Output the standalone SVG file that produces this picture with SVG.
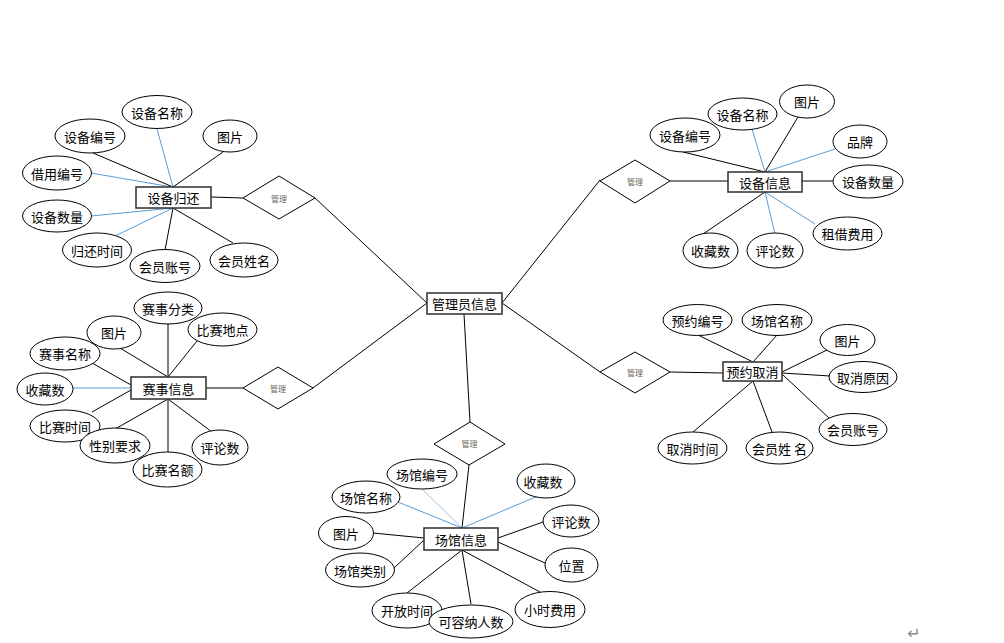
<svg xmlns="http://www.w3.org/2000/svg" width="1004" height="643" viewBox="0 0 1004 643">
<style>
.bg{fill:#ffffff}
.ent{fill:#ffffff;stroke:#3a3a3a;stroke-width:1.6}
.att{fill:#ffffff;stroke:#000000;stroke-width:1}
.rel{fill:#ffffff;stroke:#000000;stroke-width:1}
.k{stroke:#000000;stroke-width:1;fill:none}
.b{stroke:#5b9bd5;stroke-width:1;fill:none}
.lb{stroke:#9dc3e6;stroke-width:1;fill:none}
text{font-family:"Noto Sans CJK SC","Liberation Sans",sans-serif;text-anchor:middle;dominant-baseline:central;fill:#000000}
.t{font-size:13px}
.r{font-size:8px;fill:#6a6a5a}
.p{font-family:"DejaVu Sans",sans-serif;font-size:16px;fill:#8a8a8a}
</style>
<rect class="bg" x="0" y="0" width="1004" height="643"/>
<g id="connectors">
<!-- main relationships -->
<line class="k" x1="315" y1="198" x2="427" y2="303"/>
<line class="k" x1="313" y1="388" x2="427" y2="303"/>
<line class="k" x1="600" y1="180" x2="502" y2="303"/>
<line class="k" x1="600" y1="372" x2="502" y2="303"/>
<line class="k" x1="464" y1="314" x2="470" y2="422"/>
<line class="k" x1="211" y1="197" x2="243" y2="198"/>
<line class="k" x1="206" y1="388" x2="243" y2="388"/>
<line class="k" x1="670" y1="181" x2="728" y2="181"/>
<line class="k" x1="670" y1="372" x2="723" y2="373"/>
<line class="k" x1="469" y1="465" x2="462" y2="528"/>
<!-- 设备归还 -->
<line class="b" x1="157" y1="129" x2="173" y2="187"/>
<line class="k" x1="93" y1="153" x2="173" y2="187"/>
<line class="k" x1="223" y1="152" x2="173" y2="187"/>
<line class="b" x1="91" y1="173" x2="172" y2="187"/>
<line class="b" x1="91" y1="216" x2="173" y2="208"/>
<line class="b" x1="115" y1="236" x2="173" y2="208"/>
<line class="k" x1="165" y1="250" x2="173" y2="208"/>
<line class="k" x1="233" y1="243" x2="173" y2="208"/>
<!-- 设备信息 -->
<line class="k" x1="683" y1="152" x2="765" y2="172"/>
<line class="b" x1="752" y1="129" x2="765" y2="172"/>
<line class="k" x1="798" y1="117" x2="765" y2="172"/>
<line class="b" x1="835" y1="149" x2="765" y2="172"/>
<line class="k" x1="802" y1="181" x2="833" y2="181"/>
<line class="b" x1="815" y1="224" x2="765" y2="192"/>
<line class="b" x1="775" y1="234" x2="765" y2="192"/>
<line class="k" x1="703" y1="234" x2="765" y2="192"/>
<!-- 赛事信息 -->
<line class="k" x1="168" y1="324" x2="168" y2="377"/>
<line class="k" x1="115" y1="345" x2="168" y2="377"/>
<line class="k" x1="197" y1="341" x2="168" y2="377"/>
<line class="k" x1="92" y1="363" x2="131" y2="385"/>
<line class="b" x1="73" y1="388" x2="131" y2="388"/>
<line class="k" x1="92" y1="412" x2="131" y2="390"/>
<line class="k" x1="115" y1="429" x2="168" y2="399"/>
<line class="k" x1="168" y1="452" x2="168" y2="399"/>
<line class="k" x1="212" y1="432" x2="168" y2="399"/>
<!-- 预约取消 -->
<line class="k" x1="698" y1="335" x2="753" y2="362"/>
<line class="k" x1="777" y1="335" x2="753" y2="362"/>
<line class="k" x1="827" y1="350" x2="782" y2="372"/>
<line class="k" x1="830" y1="376" x2="782" y2="373"/>
<line class="k" x1="829" y1="418" x2="782" y2="374"/>
<line class="k" x1="772" y1="432" x2="753" y2="381"/>
<line class="k" x1="693" y1="432" x2="753" y2="381"/>
<!-- 场馆信息 -->
<line class="lb" x1="423" y1="490" x2="462" y2="528"/>
<line class="b" x1="398" y1="502" x2="462" y2="528"/>
<line class="b" x1="538" y1="496" x2="462" y2="528"/>
<line class="k" x1="373" y1="533" x2="424" y2="538"/>
<line class="k" x1="394" y1="568" x2="424" y2="540"/>
<line class="k" x1="543" y1="522" x2="498" y2="538"/>
<line class="k" x1="545" y1="563" x2="498" y2="542"/>
<line class="k" x1="540" y1="592" x2="462" y2="550"/>
<line class="k" x1="471" y1="604" x2="462" y2="550"/>
<line class="k" x1="407" y1="593" x2="462" y2="550"/>
</g>
<g id="admin">
<rect class="ent" x="427" y="293" width="75" height="21"/>
<text class="t" x="464.5" y="303.5">管理员信息</text>
</g>
<g id="rel-tl">
<polygon class="rel" points="243,198 279,176 315,198 279,219"/>
<text class="r" x="279" y="198">管理</text>
</g>
<g id="rel-ml">
<polygon class="rel" points="243,388 278,367 313,388 278,409"/>
<text class="r" x="278" y="388">管理</text>
</g>
<g id="rel-tr">
<polygon class="rel" points="600,181 635,160 670,181 635,203"/>
<text class="r" x="635" y="181">管理</text>
</g>
<g id="rel-mr">
<polygon class="rel" points="600,372 635,352 670,372 635,393"/>
<text class="r" x="635" y="372">管理</text>
</g>
<g id="rel-b">
<polygon class="rel" points="434,444 470,422 505,444 469,465"/>
<text class="r" x="469.5" y="443.5">管理</text>
</g>
<g id="ent-sbgh">
<rect class="ent" x="136" y="187" width="75" height="21"/>
<text class="t" x="173.5" y="197.5">设备归还</text>
</g>
<g id="ent-sbxx">
<rect class="ent" x="728" y="172" width="74" height="20"/>
<text class="t" x="765" y="182">设备信息</text>
</g>
<g id="ent-ssxx">
<rect class="ent" x="131" y="377" width="75" height="22"/>
<text class="t" x="168.5" y="388">赛事信息</text>
</g>
<g id="ent-yyqx">
<rect class="ent" x="723" y="362" width="59" height="19"/>
<text class="t" x="752.5" y="371.5">预约取消</text>
</g>
<g id="ent-cgxx">
<rect class="ent" x="424" y="528" width="74" height="22"/>
<text class="t" x="461" y="539">场馆信息</text>
</g>
<!-- 设备归还 attributes -->
<g id="a1"><ellipse class="att" cx="157" cy="112" rx="35" ry="16.5"/><text class="t" x="157" y="112">设备名称</text></g>
<g id="a2"><ellipse class="att" cx="90" cy="136" rx="35" ry="17"/><text class="t" x="90" y="136">设备编号</text></g>
<g id="a3"><ellipse class="att" cx="230" cy="136" rx="27" ry="16"/><text class="t" x="230" y="136">图片</text></g>
<g id="a4"><ellipse class="att" cx="57" cy="173" rx="34.5" ry="17"/><text class="t" x="57" y="173">借用编号</text></g>
<g id="a5"><ellipse class="att" cx="57" cy="216" rx="34.5" ry="16"/><text class="t" x="57" y="216">设备数量</text></g>
<g id="a6"><ellipse class="att" cx="97" cy="250" rx="34.5" ry="17"/><text class="t" x="97" y="250">归还时间</text></g>
<g id="a7"><ellipse class="att" cx="165" cy="266" rx="35" ry="16.5"/><text class="t" x="165" y="266">会员账号</text></g>
<g id="a8"><ellipse class="att" cx="244" cy="260" rx="34" ry="17"/><text class="t" x="244" y="260">会员姓名</text></g>
<!-- 设备信息 attributes -->
<g id="b1"><ellipse class="att" cx="685" cy="135" rx="35" ry="17"/><text class="t" x="685" y="135">设备编号</text></g>
<g id="b2"><ellipse class="att" cx="742.5" cy="114" rx="34.5" ry="16"/><text class="t" x="742.5" y="114">设备名称</text></g>
<g id="b3"><ellipse class="att" cx="807" cy="101.5" rx="27.5" ry="16.5"/><text class="t" x="807" y="101.5">图片</text></g>
<g id="b4"><ellipse class="att" cx="860" cy="141.5" rx="27" ry="16.5"/><text class="t" x="860" y="141.5">品牌</text></g>
<g id="b5"><ellipse class="att" cx="868" cy="181.5" rx="35" ry="16.5"/><text class="t" x="868" y="181.5">设备数量</text></g>
<g id="b6"><ellipse class="att" cx="847.5" cy="233.5" rx="34.5" ry="16.5"/><text class="t" x="847.5" y="233.5">租借费用</text></g>
<g id="b7"><ellipse class="att" cx="775" cy="250.5" rx="28" ry="17.5"/><text class="t" x="775" y="250.5">评论数</text></g>
<g id="b8"><ellipse class="att" cx="710.5" cy="250.5" rx="27.5" ry="17.5"/><text class="t" x="710.5" y="250.5">收藏数</text></g>
<!-- 赛事信息 attributes -->
<g id="c1"><ellipse class="att" cx="168" cy="308" rx="34" ry="16"/><text class="t" x="168" y="308">赛事分类</text></g>
<g id="c2"><ellipse class="att" cx="114" cy="332.5" rx="27" ry="16.5"/><text class="t" x="114" y="332.5">图片</text></g>
<g id="c3"><ellipse class="att" cx="222.5" cy="329.5" rx="34.5" ry="16.5"/><text class="t" x="222.5" y="329.5">比赛地点</text></g>
<g id="c4"><ellipse class="att" cx="65" cy="353.5" rx="35" ry="16.5"/><text class="t" x="65" y="353.5">赛事名称</text></g>
<g id="c5"><ellipse class="att" cx="45" cy="389" rx="28" ry="16"/><text class="t" x="45" y="389">收藏数</text></g>
<g id="c6"><ellipse class="att" cx="65" cy="426" rx="35" ry="16"/><text class="t" x="65" y="426">比赛时间</text></g>
<g id="c7"><ellipse class="att" cx="115" cy="445.5" rx="35" ry="17.5"/><text class="t" x="115" y="445.5">性别要求</text></g>
<g id="c8"><ellipse class="att" cx="167.5" cy="469.5" rx="34.5" ry="17.5"/><text class="t" x="167.5" y="469.5">比赛名额</text></g>
<g id="c9"><ellipse class="att" cx="220" cy="447.5" rx="28" ry="17.5"/><text class="t" x="220" y="447.5">评论数</text></g>
<!-- 预约取消 attributes -->
<g id="d1"><ellipse class="att" cx="697.5" cy="320" rx="34.5" ry="15.5"/><text class="t" x="697.5" y="320">预约编号</text></g>
<g id="d2"><ellipse class="att" cx="777" cy="320" rx="35" ry="15.5"/><text class="t" x="777" y="320">场馆名称</text></g>
<g id="d3"><ellipse class="att" cx="847.5" cy="340" rx="27.5" ry="15.5"/><text class="t" x="847.5" y="340">图片</text></g>
<g id="d4"><ellipse class="att" cx="863" cy="377" rx="34" ry="15.5"/><text class="t" x="863" y="377">取消原因</text></g>
<g id="d5"><ellipse class="att" cx="853" cy="429.5" rx="34" ry="16"/><text class="t" x="853" y="429.5">会员账号</text></g>
<g id="d6"><ellipse class="att" cx="779.5" cy="448" rx="33.5" ry="16"/><text class="t" x="779.5" y="448">会员姓 名</text></g>
<g id="d7"><ellipse class="att" cx="692.5" cy="448" rx="34.5" ry="16"/><text class="t" x="692.5" y="448">取消时间</text></g>
<!-- 场馆信息 attributes -->
<g id="e1"><ellipse class="att" cx="422" cy="474" rx="35" ry="15"/><text class="t" x="422" y="474">场馆编号</text></g>
<g id="e2"><ellipse class="att" cx="366" cy="497" rx="34" ry="16"/><text class="t" x="366" y="497">场馆名称</text></g>
<g id="e3"><ellipse class="att" cx="546" cy="481" rx="29" ry="17"/><text class="t" x="543" y="481">收藏数</text></g>
<g id="e4"><ellipse class="att" cx="346" cy="533" rx="27.5" ry="16.5"/><text class="t" x="346" y="533">图片</text></g>
<g id="e5"><ellipse class="att" cx="571" cy="521" rx="28" ry="16"/><text class="t" x="571" y="521">评论数</text></g>
<g id="e6"><ellipse class="att" cx="360" cy="570" rx="34.5" ry="17"/><text class="t" x="360" y="570">场馆类别</text></g>
<g id="e7"><ellipse class="att" cx="571.5" cy="565" rx="26.5" ry="17"/><text class="t" x="571.5" y="565">位置</text></g>
<g id="e8"><ellipse class="att" cx="550" cy="609.5" rx="35" ry="18"/><text class="t" x="550" y="609.5">小时费用</text></g>
<g id="e9"><ellipse class="att" cx="407" cy="610.5" rx="35" ry="17.5"/><text class="t" x="407" y="610.5">开放时间</text></g>
<g id="e10"><ellipse class="att" cx="471" cy="621.5" rx="42" ry="16.5"/><text class="t" x="471" y="621.5">可容纳人数</text></g>
<text class="p" x="914" y="633">↵</text>
</svg>
